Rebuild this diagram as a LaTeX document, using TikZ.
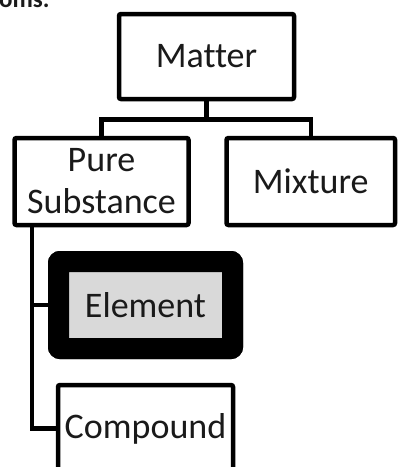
\documentclass[tikz,border=0pt]{standalone}
\usepackage{fontspec}
\setmainfont[Ligatures={NoCommon}]{Carlito}
\usetikzlibrary{calc}
\definecolor{ink}{HTML}{1A1A1A}
\definecolor{hilite}{HTML}{D9D9D9}
\tikzset{
  box/.style={draw=black, line width=4.5pt, rounded corners=2pt, fill=white,
    minimum width=175pt, minimum height=87pt, inner sep=0pt, outer sep=0pt,
    align=center, text=ink, font=\fontsize{36}{42}\selectfont},
  picked/.style={box, line width=21pt, fill=hilite, rounded corners=1pt, line join=round},
  link/.style={draw=black, line width=4.5pt, line join=miter}
}
\begin{document}
\begin{tikzpicture}[x=1pt, y=-1pt]
  \useasboundingbox (0,0) rectangle (398,467);
  % caption fragment running off the top edge
  \node[anchor=base west, inner sep=0pt, font=\bfseries\fontsize{25}{30}\selectfont, text=ink] (cap) at (-1,7) {oms.};

  % tree of boxes
  \node[box, minimum height=85pt] (matter) at (206.5,56.5) {Matter};
  \node[box, minimum width=174pt] (pure) at (101.5,181.5) {Pure\\Substance};
  \node[box, minimum width=168.5pt] (mix) at (310.75,181.5) {Mixture};
  \node[picked, minimum width=174pt] (elem) at (145.5,305) {Element};
  \node[box] (comp) at (145.5,428.5) {Compound};

  % joints
  \coordinate (bar) at (206.5,119.5);
  \coordinate (trunk) at (32,0);

  % connectors
  \draw[link] (matter.south) -- (bar);
  \draw[link] (pure.north) |- (bar) -| (mix.north);
  \draw[link] (pure.south -| trunk) -- (trunk |- comp.west) -- (comp.west);
  \draw[link] (trunk |- elem.west) -- (elem.west);

  % redraw the highlighted box over the connector end
  \node[picked, minimum width=174pt] at (elem) {Element};
\end{tikzpicture}
\end{document}
